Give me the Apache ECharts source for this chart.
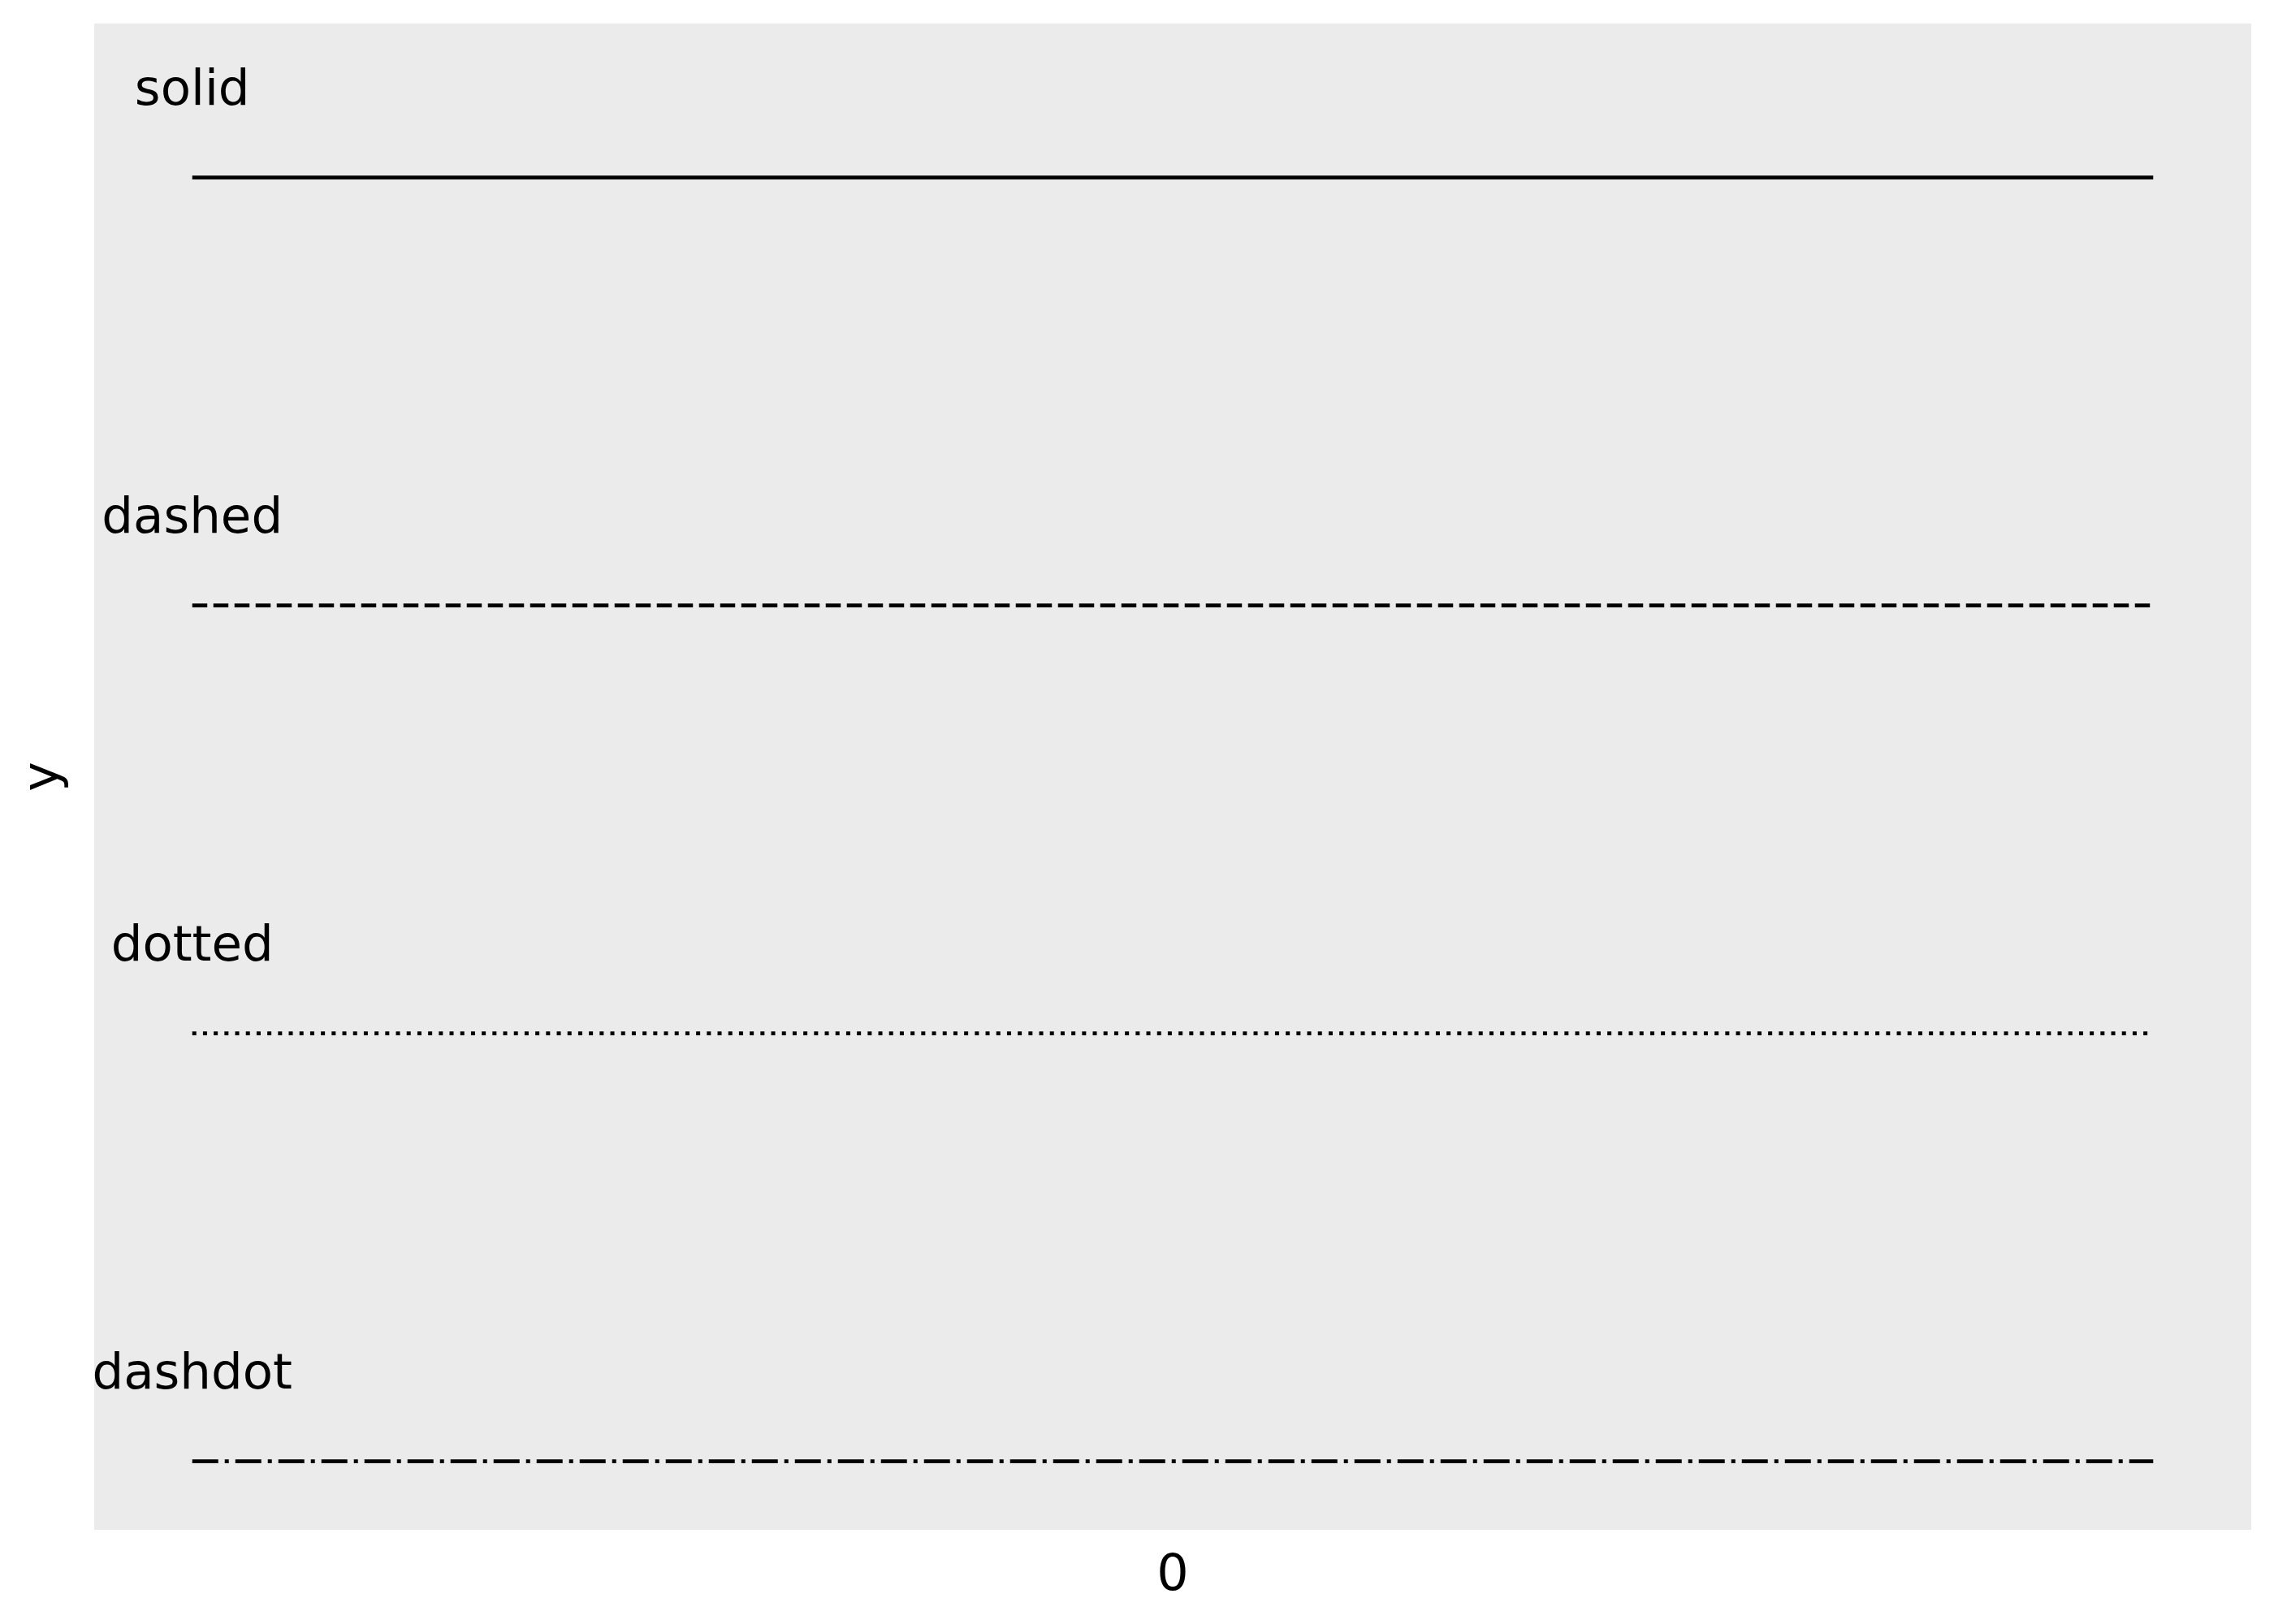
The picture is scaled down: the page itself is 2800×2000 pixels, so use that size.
<!DOCTYPE html>
<html>
<head>
<meta charset="utf-8">
<script src="https://cdn.jsdelivr.net/npm/echarts@6/dist/echarts.min.js"></script>
<style>
  html, body { margin: 0; padding: 0; background: #ffffff; }
  #chart { width: 2800px; height: 2000px; }
</style>
</head>
<body>
<div id="chart"></div>
<script>
// ---- data ----
const lineTypes = ['solid', 'dashed', 'dotted', 'dashdot'];
const yValues = [4, 3, 2, 1];
const xStart = -1;
const xEnd = 1;
const labelLift = 0.2;
const xTickValues = [0];
const xTickLabels = ['0'];
const yAxisTitle = 'y';

// ---- styles ----
const dashPatterns = {
  solid: 'solid',
  dashed: [18.5, 7.5],
  dotted: [5, 8.2],
  dashdot: [32, 8, 5, 8]
};
const FONT = 'DejaVu Sans';

const series = [];
lineTypes.forEach((name, i) => {
  series.push({
    type: 'line',
    name: name,
    data: [[xStart, yValues[i]], [xEnd, yValues[i]]],
    showSymbol: false,
    symbol: 'none',
    silent: true,
    animation: false,
    lineStyle: { color: '#000000', width: 4.7, type: dashPatterns[name], cap: 'butt' }
  });
});
series.push({
  type: 'scatter',
  name: 'labels',
  data: lineTypes.map((name, i) => ({ value: [xStart, yValues[i] + labelLift], name: name })),
  symbolSize: 0,
  silent: true,
  animation: false,
  itemStyle: { opacity: 1 },
  label: {
    show: true,
    position: 'inside',
    formatter: p => p.name,
    color: '#000000',
    opacity: 1,
    fontFamily: FONT,
    fontSize: 61
  }
});

const chart = echarts.init(document.getElementById('chart'), null, { renderer: 'canvas' });
chart.setOption({
  backgroundColor: '#ffffff',
  animation: false,
  grid: {
    left: 116, right: 28, top: 29, bottom: 116,
    show: true, backgroundColor: '#EBEBEB', borderWidth: 0
  },
  xAxis: {
    type: 'value',
    min: -1.1, max: 1.1,
    axisLine: { show: false },
    axisTick: { show: false },
    splitLine: { show: false },
    axisLabel: {
      customValues: xTickValues,
      formatter: v => {
        const k = xTickValues.findIndex(t => Math.abs(t - v) < 1e-9);
        return k >= 0 ? xTickLabels[k] : '';
      },
      margin: 27,
      color: '#000000', fontFamily: FONT, fontSize: 62
    }
  },
  yAxis: {
    type: 'value',
    min: 0.84, max: 4.36,
    name: yAxisTitle,
    nameLocation: 'middle',
    nameGap: 61,
    nameTextStyle: { color: '#000000', fontFamily: FONT, fontSize: 62, verticalAlign: 'middle' },
    axisLine: { show: false },
    axisTick: { show: false },
    splitLine: { show: false },
    axisLabel: { show: false }
  },
  series: series
});
</script>
</body>
</html>
